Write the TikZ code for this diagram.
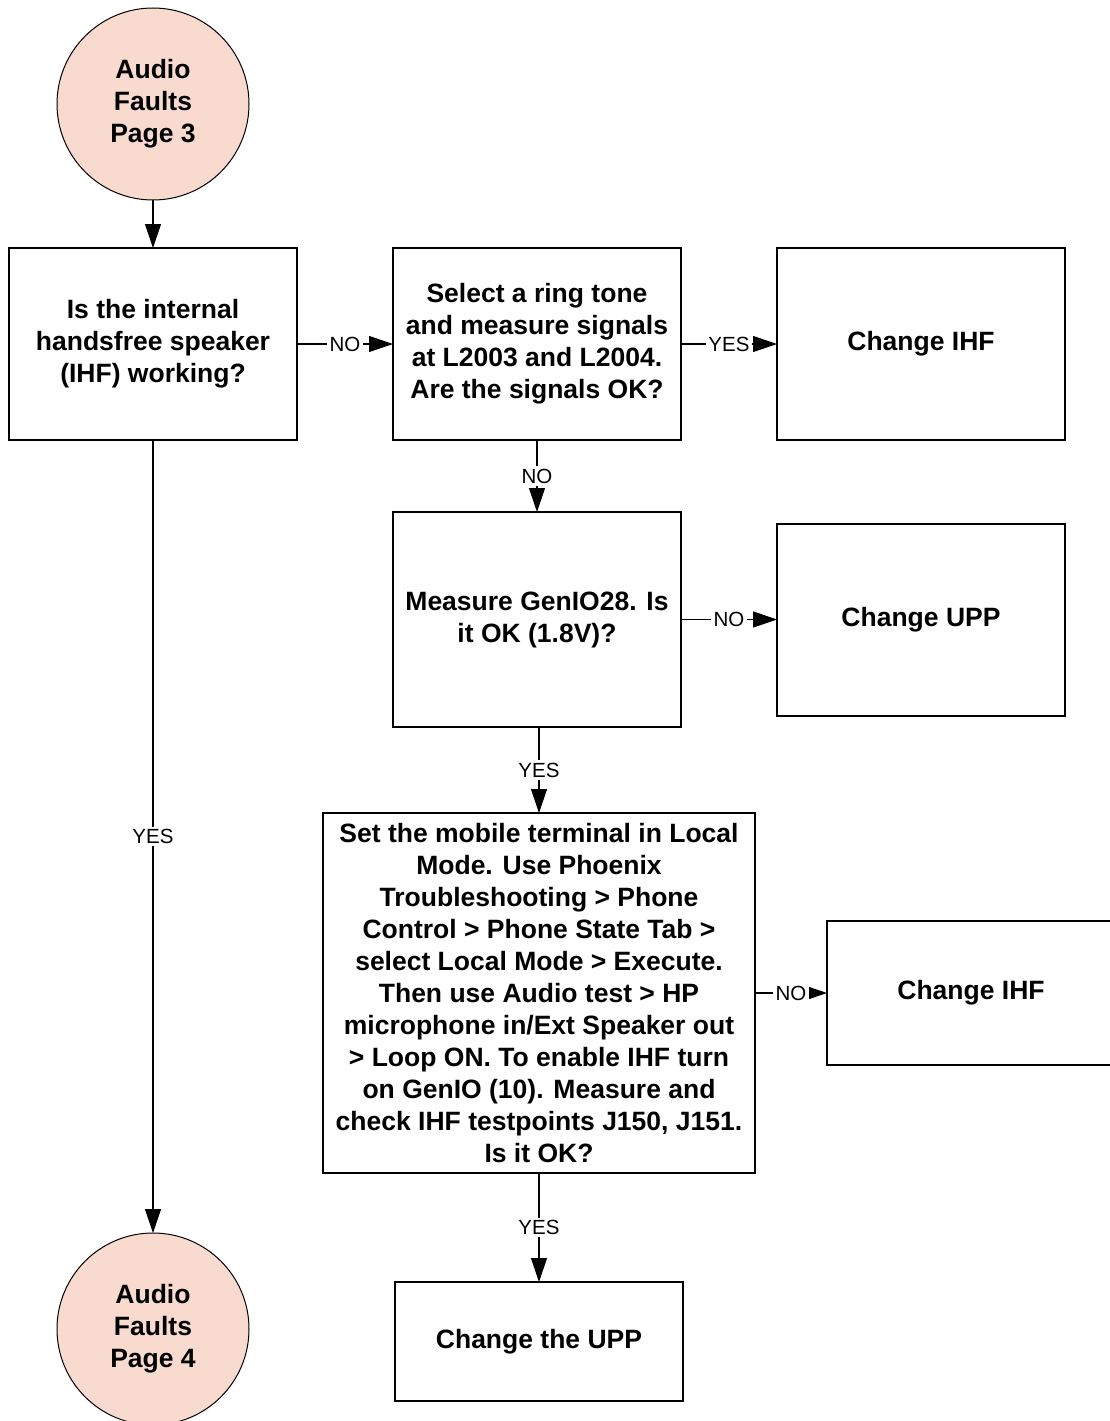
\documentclass[tikz,border=0pt]{standalone}
\usepackage{fontspec}
\setmainfont{Liberation Sans}
\usetikzlibrary{arrows.meta}
\definecolor{salmon}{RGB}{248,219,206}
\begin{document}
\begin{tikzpicture}[x=1pt,y=-1pt,
  every node/.style={inner sep=0pt, outer sep=0pt},
  stepbox/.style={draw=black, line width=1.1pt, rectangle, align=center,
    minimum width=288pt, minimum height=192pt,
    font=\bfseries\fontsize{26.5}{32}\selectfont},
  pagecircle/.style={draw=black, line width=1pt, circle, fill=salmon, align=center,
    minimum size=192pt, font=\bfseries\fontsize{26.5}{32}\selectfont},
  arr/.style={draw=black, line width=1.1pt, -{Triangle[length=24pt,width=16pt]}},
  lbl/.style={fill=white, inner sep=2.5pt, font=\fontsize{20.5}{22}\selectfont}]
\useasboundingbox (0,0) rectangle (1110,1421);

% off-page connectors
\node[pagecircle] (start) at (153,104) {Audio\\Faults\\Page 3};
\node[pagecircle] (next) at (153,1329) {Audio\\Faults\\Page 4};

% process boxes
\node[stepbox] (ihf) at (153,344) {Is the internal\\handsfree speaker\\(IHF) working?};
\node[stepbox] (ring) at (537,344) {Select a ring tone\\and measure signals\\at L2003 and L2004.\\Are the signals OK?};
\node[stepbox] (chihf) at (921,344) {Change IHF};
\node[stepbox, minimum height=215pt] (genio) at (537,619.5) {Measure GenIO28. Is\\it OK (1.8V)?};
\node[stepbox] (chupp) at (921,620) {Change UPP};
\node[stepbox, minimum width=432pt, minimum height=360pt] (local) at (539,993)
  {Set the mobile terminal in Local\\Mode. Use Phoenix\\Troubleshooting > Phone\\Control > Phone State Tab >\\select Local Mode > Execute.\\Then use Audio test > HP\\microphone in/Ext Speaker out\\> Loop ON. To enable IHF turn\\on GenIO (10). Measure and\\check IHF testpoints J150, J151.\\Is it OK?};
\node[stepbox, minimum height=144pt] (chihf2) at (971,993) {Change IHF};
\node[stepbox, minimum height=119pt] (chupp2) at (539,1341.5) {Change the UPP};

% connectors
\draw[arr] (start) -- (ihf);
\draw[arr] (ihf) -- node[lbl] {NO} (ring);
\draw[arr] (ring) -- node[lbl] {YES} (chihf);
\draw[arr] (ring) -- node[lbl] {NO} (genio);
\draw[arr] (genio.east) -- node[lbl] {NO} (genio.east -| chupp.west);
\draw[arr] (genio.south -| local.north) -- node[lbl] {YES} (local.north);
\draw[arr] (local) -- node[lbl] {NO} (chihf2);
\draw[arr] (local) -- node[lbl] {YES} (chupp2);
\draw[arr] (ihf) -- node[lbl] {YES} (next);
\end{tikzpicture}
\end{document}
